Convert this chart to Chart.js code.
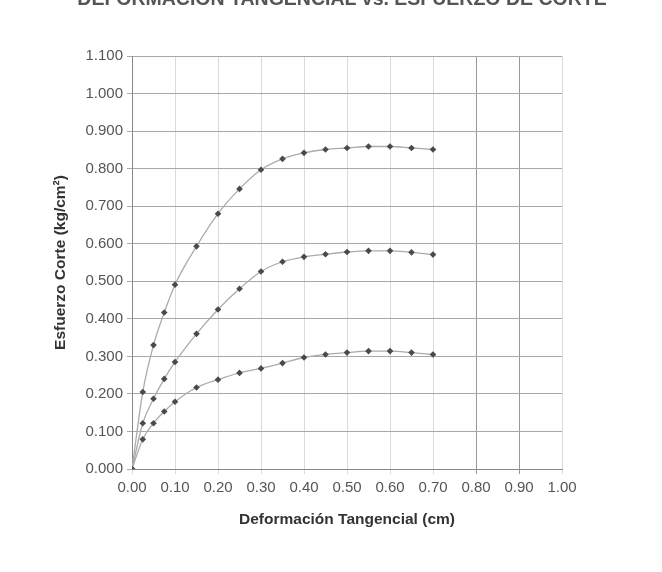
<!DOCTYPE html>
<html>
<head>
<meta charset="utf-8">
<script src="https://cdn.jsdelivr.net/npm/chart.js@4.4.1/dist/chart.umd.min.js"></script>
<style>
  html, body { margin: 0; padding: 0; background: #fff; }
  #wrap { width: 662px; height: 572px; position: relative; }
</style>
</head>
<body>
<div id="wrap"><canvas id="chart" width="662" height="572"></canvas></div>
<script>
// deformacion tangencial (cm)
const deformacion = [0, 0.025, 0.05, 0.075, 0.10, 0.15, 0.20, 0.25, 0.30, 0.35, 0.40, 0.45, 0.50, 0.55, 0.60, 0.65, 0.70];
// esfuerzo de corte (kg/cm2), one array per sample
const esfuerzo1 = [0, 0.205, 0.330, 0.417, 0.491, 0.593, 0.680, 0.746, 0.797, 0.826, 0.842, 0.851, 0.855, 0.859, 0.859, 0.855, 0.851];
const esfuerzo2 = [0, 0.122, 0.187, 0.240, 0.285, 0.360, 0.425, 0.480, 0.526, 0.552, 0.565, 0.572, 0.578, 0.581, 0.581, 0.577, 0.571];
const esfuerzo3 = [0, 0.079, 0.122, 0.153, 0.179, 0.217, 0.238, 0.256, 0.268, 0.282, 0.297, 0.305, 0.310, 0.314, 0.314, 0.310, 0.305];

const titulo = "DEFORMACION TANGENCIAL vs. ESFUERZO DE CORTE";

function toPoints(ys) {
    return deformacion.map((x, i) => ({ x: x, y: ys[i] }));
}

function serie(ys) {
    return {
        data: toPoints(ys),
        borderColor: "#ababab",
        borderWidth: 1.3,
        pointStyle: "rectRot",
        pointRadius: 3.3,
        pointBackgroundColor: "#4a4a4a",
        pointBorderColor: "#4a4a4a",
        pointBorderWidth: 0,
        cubicInterpolationMode: "monotone",
        fill: false
    };
}

// title sits half outside the top of the page, like the scan
const titlePlugin = {
    id: "cutTitle",
    afterDraw(chart) {
        const ctx = chart.ctx;
        ctx.save();
        ctx.font = "bold 19.5px 'Liberation Sans', Arial, sans-serif";
        ctx.fillStyle = "#555";
        ctx.textAlign = "center";
        ctx.textBaseline = "alphabetic";
        ctx.fillText(titulo, 342, 5);
        ctx.restore();
    }
};

const FONT = "'Liberation Sans', Arial, sans-serif";
const tickFont = { family: FONT, size: 15 };
const titleFont = { family: FONT, size: 15.5, weight: "bold" };

new Chart(document.getElementById("chart").getContext("2d"), {
    type: "line",
    data: { datasets: [serie(esfuerzo1), serie(esfuerzo2), serie(esfuerzo3)] },
    plugins: [titlePlugin],
    options: {
        responsive: false,
        animation: false,
        layout: { padding: { left: 47, right: 100, top: 56, bottom: 39 } },
        plugins: { legend: { display: false }, tooltip: { enabled: false } },
        scales: {
            x: {
                type: "linear",
                min: 0,
                max: 1,
                ticks: { stepSize: 0.1, color: "#555", font: tickFont, padding: 5, callback: v => v.toFixed(2), maxRotation: 0 },
                grid: {
                    tickLength: 5,
                    color: c => (Math.abs(c.tick.value - 0.8) < 1e-6 || Math.abs(c.tick.value - 0.9) < 1e-6) ? "#9a9a9a" : "#dadada"
                },
                border: { color: "#888" },
                title: { display: true, text: "Deformación Tangencial (cm)", color: "#333", font: titleFont },
                afterFit: s => { s.height = 64; }
            },
            y: {
                min: 0,
                max: 1.1,
                ticks: { stepSize: 0.1, color: "#555", font: tickFont, padding: 4, callback: v => v.toFixed(3) },
                grid: { tickLength: 5, color: "#a8a8a8" },
                border: { color: "#888" },
                title: { display: true, text: "Esfuerzo Corte (kg/cm²)", color: "#333", font: titleFont },
                afterFit: s => { s.width = 85; }
            }
        }
    }
});
</script>
</body>
</html>
